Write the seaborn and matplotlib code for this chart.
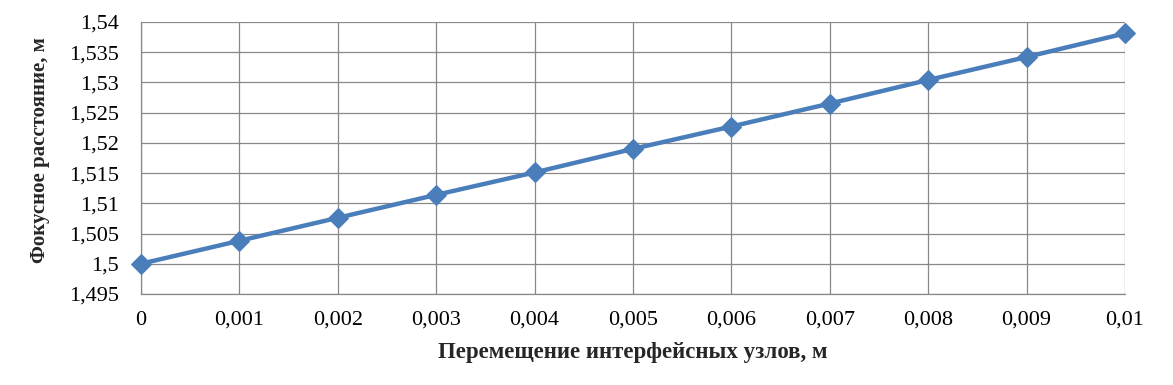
import matplotlib
matplotlib.use("Agg")
import numpy as np
import pandas as pd
import seaborn as sns
import matplotlib.pyplot as plt

# Data
displacement = [0, 0.001, 0.002, 0.003, 0.004, 0.005, 0.006, 0.007, 0.008, 0.009, 0.01]
focal_length = [1.5, 1.5038, 1.5076, 1.5114, 1.5151, 1.5190, 1.5227, 1.5265, 1.5304, 1.5342, 1.5381]

x_ticks = [0, 0.001, 0.002, 0.003, 0.004, 0.005, 0.006, 0.007, 0.008, 0.009, 0.01]
x_tick_labels = ["0", "0,001", "0,002", "0,003", "0,004", "0,005", "0,006", "0,007", "0,008", "0,009", "0,01"]
y_ticks = [1.495, 1.5, 1.505, 1.51, 1.515, 1.52, 1.525, 1.53, 1.535, 1.54]
y_tick_labels = ["1,495", "1,5", "1,505", "1,51", "1,515", "1,52", "1,525", "1,53", "1,535", "1,54"]

sns.set_style("white")
plt.rcParams["font.family"] = ["Liberation Serif", "DejaVu Serif"]

df = pd.DataFrame({"x": displacement, "y": focal_length})

fig = plt.figure(figsize=(11.73, 3.85), dpi=100)
ax = fig.add_axes([0.1202, 0.2364, 0.8388, 0.7066])

sns.lineplot(data=df, x="x", y="y", ax=ax, color="#4a7ebb", linewidth=3.2,
             marker="D", markersize=10, markeredgecolor="#4a7ebb", clip_on=False, zorder=5)

ax.set_xlim(0, 0.01)
ax.set_ylim(1.495, 1.54)
ax.set_xticks(x_ticks)
ax.set_xticklabels(x_tick_labels)
ax.set_yticks(y_ticks)
ax.set_yticklabels(y_tick_labels)

ax.grid(True, color="#888888", linewidth=0.9)
ax.set_axisbelow(True)
for side in ["top", "right"]:
    ax.spines[side].set_visible(False)
for side in ["left", "bottom"]:
    ax.spines[side].set_color("#888888")
    ax.spines[side].set_linewidth(0.9)

ax.tick_params(axis="both", which="major", direction="out", length=6, width=0.9,
               color="#888888", labelsize=16, labelcolor="black")
ax.tick_params(axis="x", pad=6)
ax.tick_params(axis="y", pad=10)

ax.set_xlabel("Перемещение интерфейсных узлов, м", fontsize=16.5, fontweight="bold")
ax.set_ylabel("Фокусное расстояние, м", fontsize=15, fontweight="bold")
ax.xaxis.set_label_coords(0.5, -0.176)
ax.yaxis.set_label_coords(-0.1026, 0.53)
ax.yaxis.label.set_va("center")

fig.savefig("out.png", dpi=100)
